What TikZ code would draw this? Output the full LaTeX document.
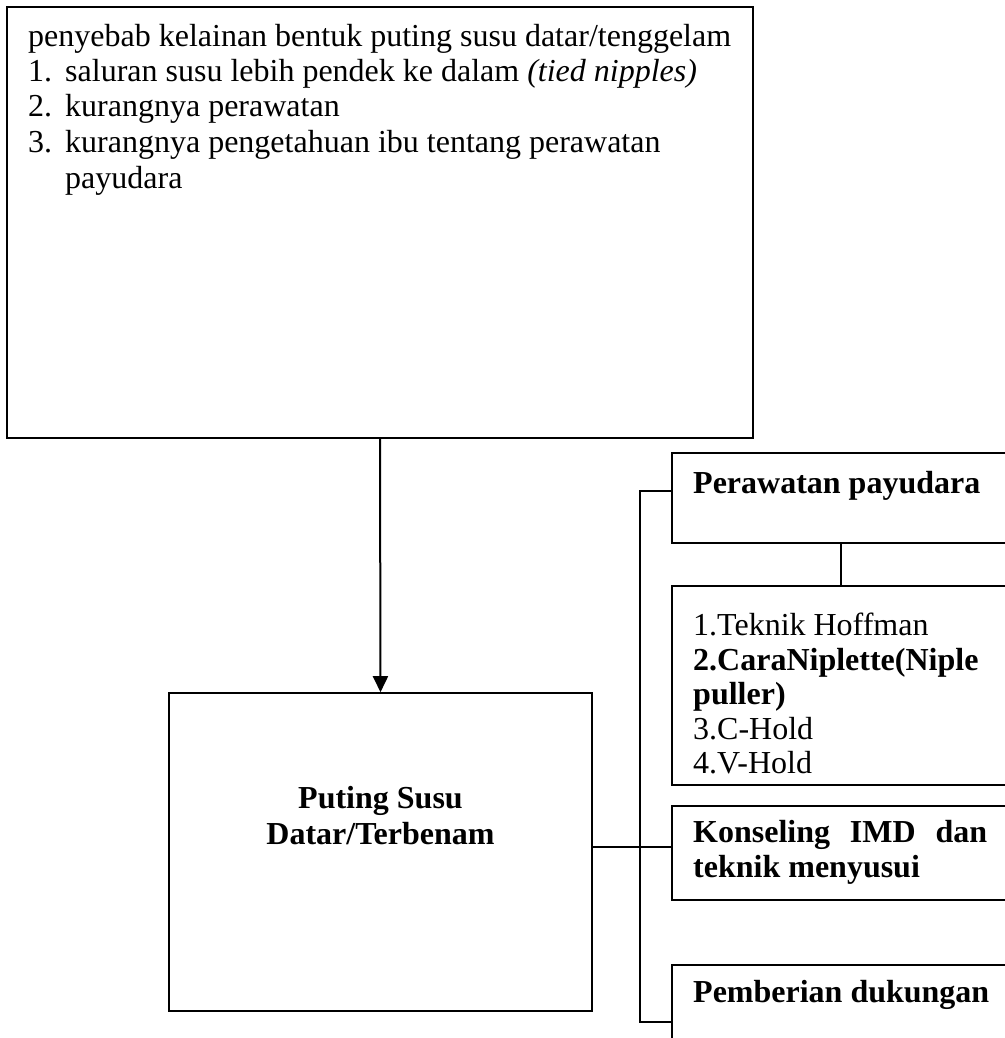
\documentclass[tikz,border=0pt]{standalone}
\usepackage{fontspec}
\setmainfont{Liberation Serif}
\usetikzlibrary{arrows.meta}
\begin{document}
\begin{tikzpicture}[x=1pt,y=-1pt,
  box/.style={draw, line width=1.6pt, inner sep=0pt},
  conn/.style={line width=1.3pt},
  txt/.style={anchor=base west, inner sep=0pt, font=\fontsize{32}{35}\selectfont},
  btxt/.style={txt, font=\fontsize{32}{35}\selectfont\bfseries},
  ctxt/.style={btxt, anchor=base}]
\useasboundingbox (0,0) rectangle (1004,1038);
% boxes
\node[box, minimum width=746pt, minimum height=431pt] (top) at (380,222.5) {};
\node[box, minimum width=423pt, minimum height=318pt] (main) at (380.5,852) {};
\node[box, minimum width=338pt, minimum height=90pt] (per) at (841,498) {};
\node[box, minimum width=338pt, minimum height=199pt] (list) at (841,685.5) {};
\node[box, minimum width=338pt, minimum height=94pt] (kons) at (841,853) {};
\node[box, minimum width=338pt, minimum height=105pt] (pemb) at (841,1017.5) {};
% top text
\node[txt] (t0) at (28,47) {penyebab kelainan bentuk puting susu datar/tenggelam};
\node[txt] (n1) at (28,82) {1.};
\node[txt] (t1) at (65,82) {saluran susu lebih pendek ke dalam \textit{(tied nipples)}};
\node[txt] (n2) at (28,117) {2.};
\node[txt] (t2) at (65,117) {kurangnya perawatan};
\node[txt] (n3) at (28,152) {3.};
\node[txt] (t3) at (65,152) {kurangnya pengetahuan ibu tentang perawatan};
\node[txt] (t3b) at (65,188) {payudara};
% main text
\node[ctxt] (m1) at (380.5,808) {Puting Susu};
\node[ctxt] (m2) at (380.5,844) {Datar/Terbenam};
% right texts
\node[btxt] (p1) at (693,493) {Perawatan payudara};
\node[txt] (l1) at (693,635) {1.Teknik Hoffman};
\node[btxt] (l2) at (693,670) {2.CaraNiplette(Niple};
\node[btxt] (l3) at (693,704) {puller)};
\node[txt] (l4) at (693,739) {3.C-Hold};
\node[txt] (l5) at (693,773) {4.V-Hold};
\node[btxt] (k1) at (693,842) {\makebox[294pt][l]{Konseling\hfill IMD\hfill dan}};
\node[btxt] (k2) at (693,877) {teknik menyusui};
\node[btxt] (pe1) at (693,1002) {Pemberian dukungan};
% connectors
\draw[line width=2pt, -{Triangle[length=16pt,width=15pt]}] (top.south) -- (main.north);
\coordinate (bus) at (640,847);
\coordinate (bustop) at (640,491);
\coordinate (busbot) at (640,1022);
\draw[conn] (main.east |- bus) -- (bus);
\draw[conn] (per.west |- bustop) -- (bustop) -- (busbot) -- (pemb.west |- busbot);
\draw[conn] (bus) -- (kons.west |- bus);
\draw[conn] (per.south) -- (list.north);
\end{tikzpicture}
\end{document}
